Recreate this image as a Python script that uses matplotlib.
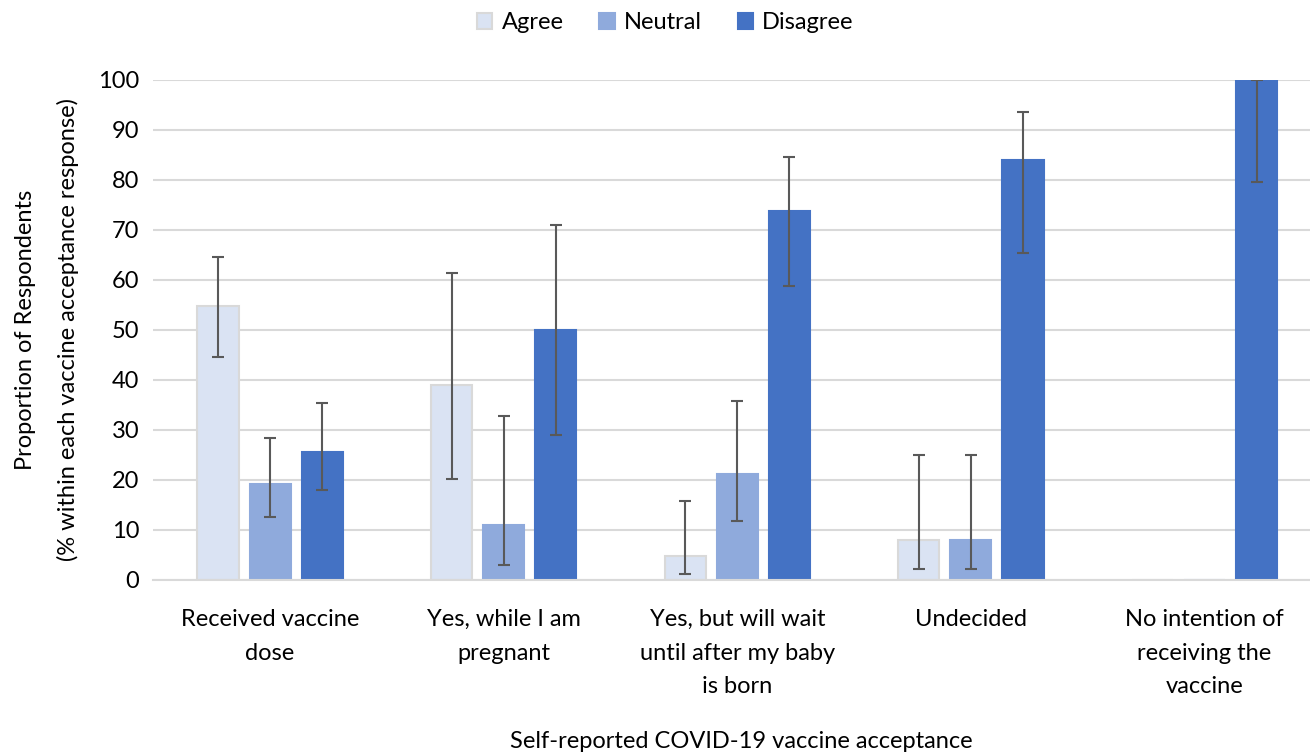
import matplotlib.pyplot as plt
import numpy as np

plt.rcParams['font.family'] = ['Lato', 'DejaVu Sans']

categories = ['Received vaccine\ndose', 'Yes, while I am\npregnant',
              'Yes, but will wait\nuntil after my baby\nis born', 'Undecided',
              'No intention of\nreceiving the\nvaccine']
series = ['Agree', 'Neutral', 'Disagree']

agree = [54.7, 38.9, 4.8, 7.9, 0]
neutral = [19.1, 11.0, 21.1, 7.9, 0]
disagree = [25.5, 49.9, 73.7, 83.9, 100]

agree_lo = [44.6, 20.2, 1.2, 2.2, 0]
agree_hi = [64.5, 61.3, 15.7, 24.9, 0]
neutral_lo = [12.5, 3.0, 11.7, 2.2, 0]
neutral_hi = [28.3, 32.7, 35.8, 24.9, 0]
disagree_lo = [17.9, 28.9, 58.8, 65.3, 79.6]
disagree_hi = [35.3, 70.9, 84.6, 93.5, 100]

colors = ['#DAE3F3', '#8FAADC', '#4472C4']
edges = ['#D9D9D9', '#8FAADC', '#4472C4']

fs = 17

fig = plt.figure(figsize=(13.1, 7.54), dpi=100)
ax = fig.add_axes([0.117, 0.231, 0.8916, 0.663])

x = np.arange(len(categories))
w = 0.176
offs = [-0.223, 0, 0.223]
vals = [agree, neutral, disagree]
los = [agree_lo, neutral_lo, disagree_lo]
his = [agree_hi, neutral_hi, disagree_hi]

for i in range(3):
    v = np.array(vals[i])
    lo = np.array(los[i])
    hi = np.array(his[i])
    ax.bar(x + offs[i], v, w, color=colors[i], edgecolor=edges[i], linewidth=1.5,
           label=series[i], zorder=2)
    m = v > 0
    ax.errorbar((x + offs[i])[m], v[m], yerr=[v[m] - lo[m], hi[m] - v[m]],
                fmt='none', ecolor='#595959', elinewidth=1.5, capsize=4.5,
                capthick=1.5, zorder=3)

ax.set_xlim(-0.5, 4.5)
ax.set_ylim(0, 100)
ax.set_yticks(range(0, 101, 10))
ax.set_xticks(x)
ax.set_xticklabels(categories, fontsize=fs, linespacing=1.75)
ax.tick_params(axis='both', length=0, labelsize=fs)
ax.tick_params(axis='x', pad=21)
ax.tick_params(axis='y', pad=10)
ax.grid(axis='y', color='#D9D9D9', linewidth=1.5, zorder=0)
ax.set_axisbelow(True)
for s in ['top', 'right', 'left']:
    ax.spines[s].set_visible(False)
ax.spines['bottom'].set_color('#D9D9D9')
ax.spines['bottom'].set_linewidth(1.5)

ax.set_ylabel('Proportion of Respondents\n(% within each vaccine acceptance response)',
              fontsize=fs, labelpad=14, linespacing=2.15)
fig.text(0.566, 0.003, 'Self-reported COVID-19 vaccine acceptance', fontsize=fs,
         ha='center', va='bottom')

fig.legend(loc='upper center', bbox_to_anchor=(0.508, 1.012), ncol=3, frameon=False,
           fontsize=fs, handlelength=0.65, handleheight=0.65, handletextpad=0.4,
           columnspacing=1.5)

fig.savefig('out.png', dpi=100)
